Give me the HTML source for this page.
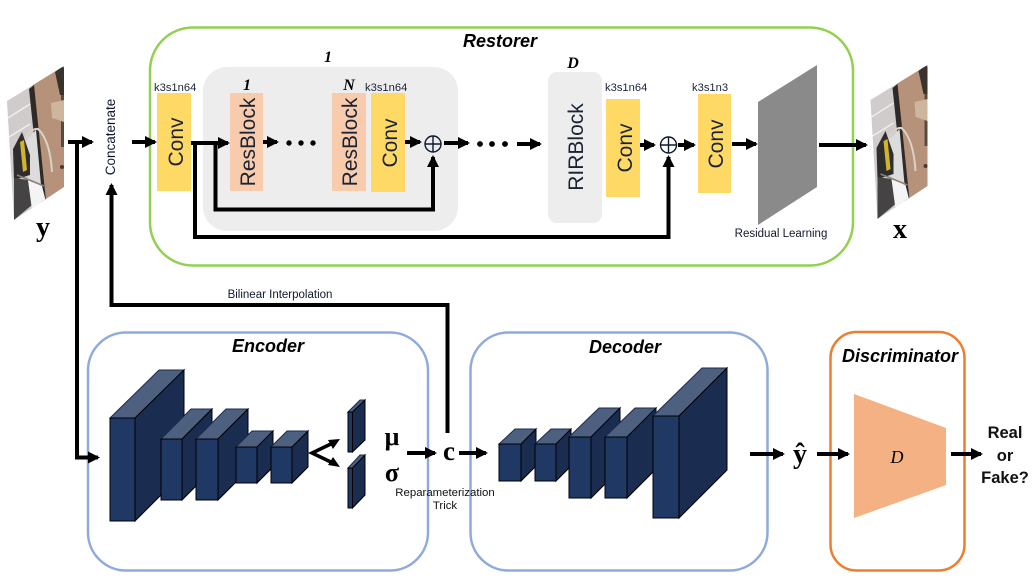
<!DOCTYPE html>
<html><head><meta charset="utf-8"><style>
html,body{margin:0;padding:0;background:#fff;width:1035px;height:579px;overflow:hidden}
svg{display:block}
text{font-family:"Liberation Sans",sans-serif;fill:#111}
.s{font-family:"Liberation Serif",serif;font-weight:bold;fill:#000}
.t{font-style:italic;font-weight:bold;font-size:18px;fill:#000}
.k{font-size:11.200px;fill:#1a2338}
.b{font-size:21px;fill:#1b2333}
.f{fill:#203864;stroke:#000;stroke-width:1}
.r{fill:#1a2c50;stroke:#000;stroke-width:1}
.u{fill:#4e6080;stroke:#1a2c50;stroke-width:1}
</style></head><body>
<svg width="1035" height="579" viewBox="0 0 1035 579" xmlns="http://www.w3.org/2000/svg">
<defs>
<marker id="a" markerWidth="3" markerHeight="3" refX="2.500" refY="1.500" orient="auto" markerUnits="strokeWidth"><path d="M0,0 L3,1.500 L0,3 Z" fill="#000"/></marker>
<clipPath id="c"><polygon points="7,101 64,66 64,187 14,220"/></clipPath>
<g id="photo">
<g clip-path="url(#c)">
<rect x="0" y="60" width="70" height="165" fill="#cfcccb"/>
<polygon points="33,85 66,62 66,190 46,202 44,180" fill="#b7927a"/>
<polygon points="29,89 34,85 46,200 41,203" fill="#2f2a27"/>
<path d="M23,143 Q30,128 38,129 Q50,140 52,172" fill="none" stroke="#d9d2c8" stroke-width="2"/>
<polygon points="24,142 36,130 41,185 28,178" fill="#dcdcdc"/>
<polygon points="13,149 22,132 30,155 30,175 14,180" fill="#302d2d"/>
<polygon points="20,142 24,140 27,170 23,172" fill="#d2b32e"/>
<polygon points="14,178 28,180 32,205 14,220" fill="#454344"/>
<polygon points="28,180 42,186 46,202 32,210" fill="#f4f4f4"/>
<path d="M17,175 L44,186" stroke="#8a8078" stroke-width="1.500"/>
<polygon points="55,72 62,66 64,68 64,95 60,95" fill="#39322d"/>
<rect x="61" y="95" width="3" height="52" fill="#5a4a3e"/>
<polygon points="51,103 64,100 64,122 52,118" fill="#cdb69d"/>
<circle cx="62" cy="167" r="2" fill="#4a3a30"/>
<path d="M8,118 L30,104 M9,137 L30,124" stroke="#eeeeee" stroke-width="1.500"/>
</g>
</g>
</defs>

<use href="#photo"/>
<use href="#photo" x="863.500" y="-1"/>

<rect x="150" y="27.500" width="703" height="238" rx="43" fill="#fff" stroke="#92d050" stroke-width="2.500"/>
<rect x="88" y="332.500" width="340" height="238" rx="38" fill="#fff" stroke="#8faadc" stroke-width="2.500"/>
<rect x="470.500" y="332.500" width="297" height="238" rx="38" fill="#fff" stroke="#8faadc" stroke-width="2.500"/>
<rect x="830.500" y="332" width="134" height="238.500" rx="26" fill="#fff" stroke="#ed7d31" stroke-width="2.500"/>

<rect x="203" y="67" width="255" height="164" rx="24" fill="#ededed"/>
<rect x="548" y="72" width="54" height="151" rx="9" fill="#ededed"/>

<rect x="157" y="93" width="34" height="98" fill="#ffd966"/>
<rect x="230" y="93" width="33" height="98" fill="#f8cbad"/>
<rect x="332" y="93" width="34" height="98" fill="#f8cbad"/>
<rect x="371" y="93" width="34" height="99" fill="#ffd966"/>
<rect x="606" y="99" width="34" height="98" fill="#ffd966"/>
<rect x="698" y="94" width="33" height="99" fill="#ffd966"/>

<polygon points="758,102 817,65 817,187 758,225" fill="#8a8a8a"/>
<polygon points="854,394 946,428 946,485 854,518" fill="#f4b183"/>

<text class="b" transform="translate(183,142) rotate(-90)" text-anchor="middle">Conv</text>
<text class="b" transform="translate(255,142) rotate(-90)" text-anchor="middle">ResBlock</text>
<text class="b" transform="translate(357,142) rotate(-90)" text-anchor="middle">ResBlock</text>
<text class="b" transform="translate(397,143) rotate(-90)" text-anchor="middle">Conv</text>
<text class="b" transform="translate(583,147) rotate(-90)" text-anchor="middle">RIRBlock</text>
<text class="b" transform="translate(632,148) rotate(-90)" text-anchor="middle">Conv</text>
<text class="b" transform="translate(723,144) rotate(-90)" text-anchor="middle">Conv</text>

<text class="k" x="154" y="91">k3s1n64</text>
<text class="k" x="365" y="91">k3s1n64</text>
<text class="k" x="605" y="91">k3s1n64</text>
<text class="k" x="692" y="91">k3s1n3</text>

<text class="s" x="328" y="62" font-size="16" font-style="italic" text-anchor="middle">1</text>
<text class="s" x="247" y="90" font-size="16" font-style="italic" text-anchor="middle">1</text>
<text class="s" x="349" y="90" font-size="16" font-style="italic" text-anchor="middle">N</text>
<text class="s" x="573" y="68" font-size="16" font-style="italic" text-anchor="middle">D</text>

<text class="t" x="500" y="47" text-anchor="middle">Restorer</text>
<text class="t" x="268" y="352" text-anchor="middle">Encoder</text>
<text class="t" x="625" y="353" text-anchor="middle">Decoder</text>
<text class="t" x="900" y="362" text-anchor="middle">Discriminator</text>

<text transform="translate(115,137) rotate(-90)" text-anchor="middle" font-size="13.500" style="fill:#10182c">Concatenate</text>
<text x="781" y="237" text-anchor="middle" font-size="11.500" style="fill:#10182c">Residual Learning</text>
<text x="280" y="298" text-anchor="middle" font-size="11.500" style="fill:#10182c">Bilinear Interpolation</text>
<text x="445" y="496" text-anchor="middle" font-size="11.400">Reparameterization</text>
<text x="445" y="509" text-anchor="middle" font-size="11.400">Trick</text>

<text class="s" x="43" y="236" font-size="28" text-anchor="middle">y</text>
<text class="s" x="900" y="238" font-size="28" text-anchor="middle">x</text>
<text class="s" x="392" y="445" font-size="26" text-anchor="middle">μ</text>
<text class="s" x="392" y="481" font-size="26" text-anchor="middle">σ</text>
<text class="s" x="449" y="460" font-size="27" text-anchor="middle">c</text>
<text class="s" x="800" y="463" font-size="28" text-anchor="middle">ŷ</text>
<text x="897" y="463" font-size="18" font-style="italic" text-anchor="middle" style="font-family:'Liberation Serif',serif;fill:#000">D</text>
<text x="1005" y="438" text-anchor="middle" font-size="16.500" font-weight="bold" style="fill:#111">Real</text>
<text x="1005" y="461" text-anchor="middle" font-size="16.500" font-weight="bold" style="fill:#111">or</text>
<text x="1005" y="483" text-anchor="middle" font-size="16.500" font-weight="bold" style="fill:#111">Fake?</text>

<!-- encoder -->
<g>
<polygon class="u" points="110,418 159,370 184,370 135,418"/><polygon class="r" points="135,418 184,370 184,472 135,521"/><rect class="f" x="110" y="418" width="25" height="103"/>
<polygon class="u" points="161,439 191,409 212,409 182,439"/><polygon class="r" points="182,439 212,409 212,470 182,500"/><rect class="f" x="161" y="439" width="21" height="61"/>
<polygon class="u" points="196,439 226,409 248,409 218,439"/><polygon class="r" points="218,439 248,409 248,470 218,500"/><rect class="f" x="196" y="439" width="22" height="61"/>
<polygon class="u" points="236,447 252,431 273,431 257,447"/><polygon class="r" points="257,447 273,431 273,467 257,483"/><rect class="f" x="236" y="447" width="21" height="36"/>
<polygon class="u" points="271,447 287,431 308,431 292,447"/><polygon class="r" points="292,447 308,431 308,467 292,483"/><rect class="f" x="271" y="447" width="21" height="36"/>
<polygon class="u" points="348,412 360,400 365,400 352.500,412"/><polygon class="r" points="352.500,412 365,400 365,440 352.500,452"/><rect class="f" x="348" y="412" width="4.500" height="40"/>
<polygon class="u" points="348,468 360,455 365,455 352.500,468"/><polygon class="r" points="352.500,468 365,455 365,495 352.500,508"/><rect class="f" x="348" y="468" width="4.500" height="40"/>
</g>
<!-- decoder -->
<g>
<polygon class="u" points="499,444 515,429 536,429 521,444"/><polygon class="r" points="521,444 536,429 536,466 521,481"/><rect class="f" x="499" y="444" width="22" height="37"/>
<polygon class="u" points="535,444 551,429 571,429 556,444"/><polygon class="r" points="556,444 571,429 571,466 556,481"/><rect class="f" x="535" y="444" width="21" height="37"/>
<polygon class="u" points="569,437 599,408 620,408 591,437"/><polygon class="r" points="591,437 620,408 620,469 591,498"/><rect class="f" x="569" y="437" width="22" height="61"/>
<polygon class="u" points="605,437 635,408 656,408 627,437"/><polygon class="r" points="627,437 656,408 656,469 627,498"/><rect class="f" x="605" y="437" width="22" height="61"/>
<polygon class="u" points="653,416 702,368 727,368 679,416"/><polygon class="r" points="679,416 727,368 727,470 679,518"/><rect class="f" x="653" y="416" width="26" height="102"/>
</g>

<!-- plus circles -->
<g fill="none" stroke="#0d1a30" stroke-width="1.400">
<circle cx="433" cy="144" r="8"/><path d="M425,144H441M433,136V152"/>
<circle cx="668.500" cy="145" r="8"/><path d="M660.500,145H676.500M668.500,137V153"/>
</g>

<!-- dots -->
<g fill="#000">
<circle cx="289" cy="143" r="2.700"/><circle cx="301" cy="143" r="2.700"/><circle cx="313" cy="143" r="2.700"/>
<circle cx="480" cy="144" r="2.900"/><circle cx="492" cy="144" r="2.900"/><circle cx="505" cy="144" r="2.900"/>
</g>

<!-- connectors -->
<g style="stroke:#000;stroke-width:4;fill:none">
<path d="M68,142H92" marker-end="url(#a)"/>
<path d="M77,142V457.500H98" marker-end="url(#a)"/>
<path d="M132,142H155" marker-end="url(#a)"/>
<path d="M191,143H228" marker-end="url(#a)"/>
<path d="M263,142H277" marker-end="url(#a)"/>
<path d="M405,142H420" marker-end="url(#a)"/>
<path d="M444,143H468" marker-end="url(#a)"/>
<path d="M517,144H540" marker-end="url(#a)"/>
<path d="M640,145H654" marker-end="url(#a)"/>
<path d="M678,145H694" marker-end="url(#a)"/>
<path d="M732,144H756" marker-end="url(#a)"/>
<path d="M819,145H866" marker-end="url(#a)"/>
<path d="M215.500,143V209.500H433V157" marker-end="url(#a)"/>
<path d="M195,143V237H668.500V157" marker-end="url(#a)"/>
<path d="M447.500,433V305H111.500V185" marker-end="url(#a)"/>
<path d="M407,453H435" marker-end="url(#a)"/>
<path d="M459,453H486" marker-end="url(#a)"/>
<path d="M750,454H783" marker-end="url(#a)"/>
<path d="M817,454H848" marker-end="url(#a)"/>
<path d="M951,454H981" marker-end="url(#a)"/>
<path d="M335,442L312,453L335,464" style="stroke-width:3.500"/>
</g>
<path d="M340,439L328,440L333,449Z M340,467L328,465L333,457Z" fill="#000"/>
</svg>
</body></html>
